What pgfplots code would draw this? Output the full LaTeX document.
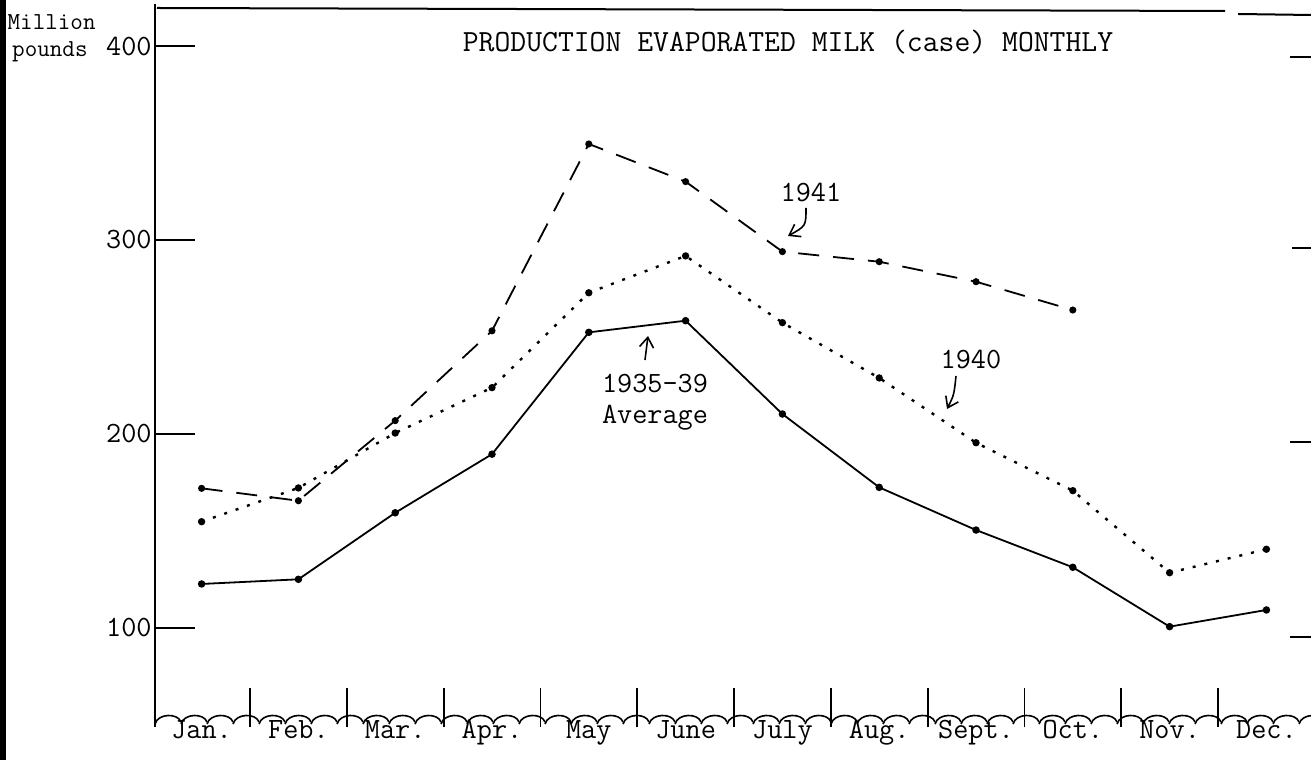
\documentclass[border=0pt]{standalone}
\usepackage{fontspec}
\usepackage{pgfplots}
\pgfplotsset{compat=1.18}
\usepackage{pgfplotstable}
\usetikzlibrary{arrows.meta}
\newcommand\tw{\ttfamily\fontsize{14.7}{17}\selectfont}
\newcommand\twt{\ttfamily\fontsize{15.4}{18}\selectfont}
\newcommand\tws{\ttfamily\fontsize{12.2}{14}\selectfont}

\pgfplotstableread{
x y
0 122.7
1 125.1
2 159.4
3 189.6
4 252.4
5 258.4
6 210.3
7 172.5
8 150.5
9 131.3
10 100.7
11 109.3
}\avgdata
\pgfplotstableread{
x y
0 154.8
1 172.2
2 200.5
3 223.9
4 272.8
5 291.8
6 257.4
7 228.9
8 195.5
9 170.8
10 128.5
11 140.6
}\fortydata
\pgfplotstableread{
x y
0 172.0
1 165.6
2 206.9
3 253.2
4 349.5
5 330.1
6 294.0
7 288.8
8 278.5
9 263.9
}\fortyonedata

\begin{document}
\begin{tikzpicture}
\path[use as bounding box] (-77.5pt,-19pt) rectangle (578pt,361pt);
\begin{axis}[
  at={(0,0)}, anchor=south west,
  scale only axis, width=578pt, height=357pt,
  xmin=-0.4814, xmax=11.4607, ymin=51.55, ymax=419.59,
  axis line style={draw=none},
  tick pos=left,
  ytick={100,200,300,400},
  xtick={0,...,11},
  xticklabels={Jan.,Feb.,Mar.,Apr.,May,June,July,Aug.,Sept.,Oct.,Nov.,Dec.},
  minor xtick={0.5,1.5,...,10.5},
  major tick length=20pt,
  minor tick length=19.5pt,
  every major x tick/.append style={draw=none},
  every minor x tick/.append style={black, line width=0.9pt, yshift=-2.5pt},
  every major y tick/.append style={black, line width=1pt},
  /pgf/number format/assume math mode=true,
  xticklabel style={font=\tw, anchor=base, yshift=-8pt},
  yticklabel style={font=\tw, anchor=east, inner sep=0pt, xshift=-1.5pt},
  clip=false,
]
\addplot[black, line width=0.9pt, mark=*, mark size=1.4pt] table[x=x,y=y] {\avgdata};
\addplot[black, line width=1.2pt, dash pattern=on 1.5pt off 4.5pt, mark=*, mark size=1.2pt, mark options={solid}] table[x=x,y=y] {\fortydata};
\addplot[black, line width=0.9pt, dash pattern=on 10.5pt off 7pt, mark=*, mark size=1.3pt, mark options={solid}] table[x=x,y=y] {\fortyonedata};
\end{axis}
\begin{scope}[x=0.5pt, y=-0.5pt, shift={(-77.5pt,361pt)}]
  % scalloped bottom line
  \foreach \i in {0,...,44} {
    \draw[line width=0.8pt] ({155+26*\i},724) .. controls ({158+26*\i},713) and ({178+26*\i},713) .. ({181+26*\i},722);
  }
  % frame
  \draw[line width=1.1pt] (155,4) -- (155,727);
  \draw[line width=1pt] (157,8) -- (1225,11);
  \draw[line width=1pt] (1238,14) -- (1311,15);
  \draw[line width=1pt] (1290,57) -- (1311,57);
  \draw[line width=1pt] (1292,248) -- (1311,248);
  \draw[line width=1pt] (1290,442) -- (1311,442);
  \draw[line width=1pt] (1290,637) -- (1311,637);
  % texts
  \node[font=\twt] at (788,42) {PRODUCTION EVAPORATED MILK (case) MONTHLY};
  \node[font=\tws, anchor=east, inner sep=0pt] at (96,22) {Million};
  \node[font=\tws, anchor=east, inner sep=0pt] at (88,52) {pounds};
  \node[font=\tw] at (811,192) {1941};
  \node[font=\tw] at (971,359) {1940};
  \node[font=\tw] at (655,384) {1935–39};
  \node[font=\tw] at (655,418) {Average};
  % arrows
  \draw[line width=0.8pt, -{Straight Barb[length=5pt,width=7pt]}] (806,208) .. controls (806,226) .. (788,236);
  \draw[line width=0.8pt, -{Straight Barb[length=5pt,width=7pt]}] (956,376) .. controls (954,395) .. (947,409);
  \draw[line width=0.8pt, -{Straight Barb[length=5pt,width=7pt]}] (645,360) -- (648,336);
  % scan edge
  \fill (0,0) rectangle (6,760);
\end{scope}
\end{tikzpicture}
\end{document}
